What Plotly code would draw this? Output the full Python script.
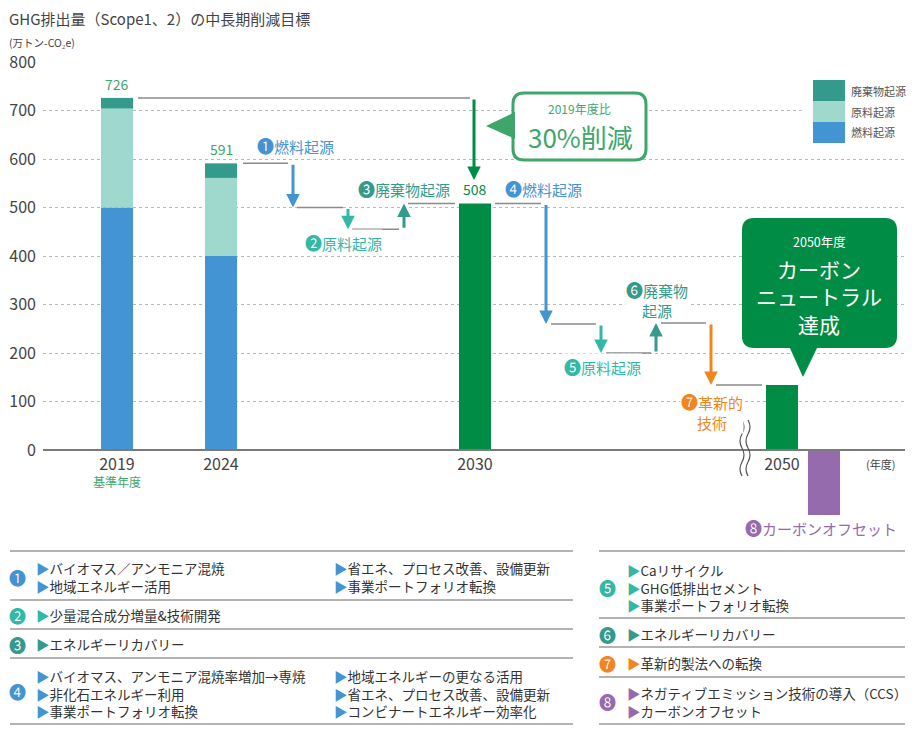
import plotly.graph_objects as go

# ---------------- data ----------------
years = ["2019", "2024", "2030", "2050"]
base_year_note = "基準年度"
legend_names = ["廃棄物起源", "原料起源", "燃料起源"]
fuel = [500, 400]     # 燃料起源 (2019, 2024)
raw = [204, 161]      # 原料起源
waste = [22, 30]      # 廃棄物起源
totals = [726, 591]
target_2030 = 508
target_2050 = 134
offset_2050 = -134
steps_2030 = [-91, -45, 53]            # ① ② ③
steps_2050 = [-248, -60, 62, -128]     # ④ ⑤ ⑥ ⑦
step_nums_2030 = ["❶", "❷", "❸"]
step_labels_2030 = ["燃料起源", "原料起源", "廃棄物起源"]
step_nums_2050 = ["❹", "❺", "❻", "❼"]
step_labels_2050 = ["燃料起源", "原料起源", "廃棄物<br>起源", "革新的<br>技術"]
offset_num = "❽"
offset_label = "カーボンオフセット"
yticks = [0, 100, 200, 300, 400, 500, 600, 700, 800]

measures_1a = ["バイオマス／アンモニア混焼", "地域エネルギー活用"]
measures_1b = ["省エネ、プロセス改善、設備更新", "事業ポートフォリオ転換"]
measures_2 = ["少量混合成分増量&技術開発"]
measures_3 = ["エネルギーリカバリー"]
measures_4a = ["バイオマス、アンモニア混焼率増加→専焼", "非化石エネルギー利用", "事業ポートフォリオ転換"]
measures_4b = ["地域エネルギーの更なる活用", "省エネ、プロセス改善、設備更新", "コンビナートエネルギー効率化"]
measures_5 = ["Caリサイクル", "GHG低排出セメント", "事業ポートフォリオ転換"]
measures_6 = ["エネルギーリカバリー"]
measures_7 = ["革新的製法への転換"]
measures_8 = ["ネガティブエミッション技術の導入（CCS）", "カーボンオフセット"]

# ---------------- styles / layout ----------------
FONT = "Noto Sans CJK JP"
TXT = "#444444"
BLUE = "#4394d2"
LTEAL = "#9fd9cd"
DTEAL = "#349a8b"
TEAL = "#33b8a6"
GREEN = "#008c44"
LGREEN = "#3ea66b"
PURPLE = "#956bad"
ORANGE = "#f0861e"
CONN = "#8a8a8a"

# page (browser window) coordinates; the page body adds an 8px margin
OFF = 8
W, H = 920 - OFF, 740 - OFF
PL, PR, PT, PB = 43, 905, 62, 522     # plot area in page pixels
Y_TOP, Y_BOT = 800, -148.45


def X(px):
    return (px - PL) / (PR - PL)


def P(py):
    return (PB - py) / (PB - PT)


def Yd(py):
    return Y_TOP - (py - PT) * (Y_TOP - Y_BOT) / (PB - PT)


bar_x = [117, 221, 475, 782]
offset_x = 824
bar_w = 32
arrow_x_2030 = [293, 348, 404]
arrow_x_2050 = [546, 601, 656, 711]
step_col_2030 = [BLUE, TEAL, DTEAL]
step_col_2050 = [BLUE, TEAL, DTEAL, ORANGE]
lab_pos_2030 = [(295, 146), (343, 243), (404, 188)]
lab_pos_2050 = [(543, 188), (602, 366), (657, 299), (712, 411)]

fig = go.Figure()
fig.add_trace(go.Bar(x=bar_x[:2], y=fuel, width=bar_w, marker_color=BLUE,
                     marker_line_width=0, name=legend_names[2], hoverinfo="skip"))
fig.add_trace(go.Bar(x=bar_x[:2], y=raw, width=bar_w, marker_color=LTEAL,
                     marker_line_width=0, name=legend_names[1], hoverinfo="skip"))
fig.add_trace(go.Bar(x=bar_x[:2], y=waste, width=bar_w, marker_color=DTEAL,
                     marker_line_width=0, name=legend_names[0], hoverinfo="skip"))
fig.add_trace(go.Bar(x=[bar_x[2], bar_x[3]], y=[target_2030, target_2050], width=bar_w,
                     marker_color=GREEN, marker_line_width=0, hoverinfo="skip"))
fig.add_trace(go.Bar(x=[offset_x], y=[offset_2050], width=bar_w,
                     marker_color=PURPLE, marker_line_width=0, hoverinfo="skip"))

shapes = []
ann = []


def txt(x, y, text, size, color=TXT, xanchor="center", yanchor="middle", bg=None, align="center"):
    d = dict(x=X(x), y=P(y), xref="paper", yref="paper", text=text, showarrow=False,
             font=dict(family=FONT, size=size, color=color), xanchor=xanchor,
             yanchor=yanchor, align=align, borderpad=0)
    if bg:
        d["bgcolor"] = bg
    ann.append(d)


def num(n):
    return '<span style="font-size:17px">%s</span>' % n


def conn(x0, x1, level):
    shapes.append(dict(type="line", xref="x", yref="y", x0=x0, x1=x1, y0=level, y1=level,
                       line=dict(color=CONN, width=1.5)))


def arrow(x, y0, y1, color):
    ann.append(dict(x=x, y=y1, ax=x, ay=y0, xref="x", yref="y", axref="x", ayref="y",
                    text="", showarrow=True, arrowhead=2, arrowsize=0.9, arrowwidth=3,
                    arrowcolor=color, standoff=0, startstandoff=0))


# bar total labels
for i in range(2):
    ann.append(dict(x=bar_x[i], y=totals[i], xref="x", yref="y", text=str(totals[i]),
                    showarrow=False, yanchor="bottom", yshift=2,
                    font=dict(family=FONT, size=14, color=LGREEN)))
ann.append(dict(x=bar_x[2], y=target_2030, xref="x", yref="y", text=str(target_2030),
                showarrow=False, yanchor="bottom", yshift=3,
                font=dict(family=FONT, size=14, color=GREEN)))

# connector 2019 -> 30% arrow
conn(bar_x[0] + bar_w / 2 + 5, 470, totals[0])
arrow(474, totals[0], Yd(180), GREEN)

# waterfall 2024 -> 2030
level = totals[1]
prev_right = bar_x[1] + bar_w / 2 + 6
for i, s in enumerate(steps_2030):
    ax_ = arrow_x_2030[i]
    conn(prev_right, ax_ - 5, level)
    arrow(ax_, level, level + s, step_col_2030[i])
    level += s
    prev_right = ax_ + 4
conn(prev_right, bar_x[2] - bar_w / 2 - 4, level)

# waterfall 2030 -> 2050
level = target_2030
prev_right = bar_x[2] + bar_w / 2 + 4
for i, s in enumerate(steps_2050):
    ax_ = arrow_x_2050[i]
    conn(prev_right, ax_ - 5, level)
    arrow(ax_, level, level + s, step_col_2050[i])
    level += s
    prev_right = ax_ + 5
conn(prev_right, bar_x[3] - bar_w / 2 - 4, level)

# step labels
for (lx, ly), n, t, c in zip(lab_pos_2030, step_nums_2030, step_labels_2030, step_col_2030):
    txt(lx, ly, num(n) + t, 15, c, bg="white")
for (lx, ly), n, t, c in zip(lab_pos_2050, step_nums_2050, step_labels_2050, step_col_2050):
    txt(lx, ly, num(n) + t, 15, c, bg="white")
txt(821, 527, num(offset_num) + offset_label, 15, PURPLE)

# axis extras
txt(bar_x[0], 481, base_year_note, 12, LGREEN)
txt(880, 464, "(年度)", 11, TXT)

# title and unit
txt(8, 19, "GHG排出量（Scope1、2）の中長期削減目標", 15, TXT, xanchor="left")
txt(8, 43, "(万トン-CO₂e)", 10.5, TXT, xanchor="left")

# axis break squiggles
for bx in (742, 748):
    pts = [(bx, 420), (bx + 4, 427), (bx, 434), (bx - 4, 441), (bx, 448),
           (bx + 4, 455), (bx, 462), (bx - 4, 469), (bx, 476)]
    path = "M%.5f,%.5f" % (X(pts[0][0]), P(pts[0][1]))
    for k in range(1, len(pts) - 1, 2):
        path += " Q%.5f,%.5f %.5f,%.5f" % (X(pts[k][0]), P(pts[k][1]), X(pts[k + 1][0]), P(pts[k + 1][1]))
    shapes.append(dict(type="path", xref="paper", yref="paper", path=path,
                       line=dict(color="#555", width=1.2)))


def rrect(x0, y0, x1, y1, r):
    return ("M{a},{b} L{c},{b} Q{d},{b} {d},{e} L{d},{f} Q{d},{g} {c},{g} L{a},{g} "
            "Q{h},{g} {h},{f} L{h},{e} Q{h},{b} {a},{b} Z").format(
        a=X(x0 + r), b=P(y0), c=X(x1 - r), d=X(x1), e=P(y0 + r), f=P(y1 - r), g=P(y1), h=X(x0))


def tri(pts):
    s = "M%.5f,%.5f" % (X(pts[0][0]), P(pts[0][1]))
    for p in pts[1:]:
        s += " L%.5f,%.5f" % (X(p[0]), P(p[1]))
    return s + " Z"


# legend (custom)
shapes.append(dict(type="rect", xref="paper", yref="paper", x0=X(802), x1=X(905),
                   y0=P(78), y1=P(145), fillcolor="white", line_width=0))
leg_cols = [DTEAL, LTEAL, BLUE]
for i, (nm, c) in enumerate(zip(legend_names, leg_cols)):
    y0 = 80 + i * 21
    shapes.append(dict(type="rect", xref="paper", yref="paper", x0=X(813), x1=X(845),
                       y0=P(y0), y1=P(y0 + 21), fillcolor=c, line_width=0))
    txt(850, y0 + 10.5, nm, 11, "#555", xanchor="left")

# 30% callout
shapes.append(dict(type="path", xref="paper", yref="paper", path=rrect(513, 93, 646, 160, 11),
                   fillcolor="white", line=dict(color=LGREEN, width=3)))
shapes.append(dict(type="path", xref="paper", yref="paper",
                   path=tri([(486, 126), (515, 112), (515, 139)]), fillcolor=LGREEN, line_width=0))
txt(579, 109, "2019年度比", 12, LGREEN)
txt(580, 137, "30%削減", 26, LGREEN)

# 2050 callout
shapes.append(dict(type="path", xref="paper", yref="paper", path=rrect(742, 218, 897, 348, 12),
                   fillcolor=GREEN, line_width=0))
shapes.append(dict(type="path", xref="paper", yref="paper",
                   path=tri([(789, 346), (818, 346), (803, 377)]), fillcolor=GREEN, line_width=0))
txt(819, 241, "2050年度", 12.5, "white")
txt(819, 296, "カーボン<br>ニュートラル<br>達成", 21, "white")


# ---------------- table ----------------
def hline(x0, x1, y):
    shapes.append(dict(type="line", xref="paper", yref="paper", x0=X(x0), x1=X(x1),
                       y0=P(y), y1=P(y), line=dict(color="#9a9a9a", width=1.5)))


def items(x, ymid, lines, color):
    t = "<br>".join('<span style="color:%s">▶</span>%s' % (color, s) for s in lines)
    txt(x, ymid, t, 13.5, "#333", xanchor="left", align="left")


for y in (551, 600, 629, 658, 724):
    hline(10, 573, y)
for y in (551, 618, 647, 677, 724):
    hline(599, 905, y)

left_rows = [
    ("❶", BLUE, 577, [(35, 577, measures_1a), (333, 577, measures_1b)]),
    ("❷", TEAL, 615, [(35, 615, measures_2)]),
    ("❸", DTEAL, 644, [(35, 644, measures_3)]),
    ("❹", BLUE, 692, [(35, 693, measures_4a), (333, 693, measures_4b)]),
]
right_rows = [
    ("❺", TEAL, 587, [(626, 587, measures_5)]),
    ("❻", DTEAL, 634, [(626, 634, measures_6)]),
    ("❼", ORANGE, 663, [(626, 663, measures_7)]),
    ("❽", PURPLE, 701, [(626, 701.5, measures_8)]),
]
for rows, cx in ((left_rows, 17), (right_rows, 607)):
    for n, col, cy, cols in rows:
        txt(cx, cy, n, 17, col)
        for x0, ym, lines in cols:
            items(x0, ym, lines, col)

fig.update_layout(
    width=W, height=H, autosize=False,
    margin=dict(l=PL - OFF, r=W + OFF - PR, t=PT - OFF, b=H + OFF - PB, pad=0, autoexpand=False),
    paper_bgcolor="white", plot_bgcolor="white",
    barmode="relative", showlegend=False,
    font=dict(family=FONT, color=TXT),
    xaxis=dict(range=[PL, PR], anchor="free", position=P(450), automargin=False,
               tickvals=bar_x, ticktext=years, showgrid=False, zeroline=False,
               showline=True, linecolor="#7a7a7a", linewidth=1.5, ticks="",
               tickfont=dict(family=FONT, size=16, color=TXT), fixedrange=True),
    yaxis=dict(range=[Y_BOT, Y_TOP], tickvals=yticks, showgrid=True, gridcolor="#b8b8b8",
               griddash="dot", gridwidth=1, zeroline=False, showline=False, ticks="",
               ticklabelstandoff=6, automargin=False,
               tickfont=dict(family=FONT, size=16, color=TXT), fixedrange=True),
    shapes=shapes, annotations=ann,
)

fig.write_html("out.html")
